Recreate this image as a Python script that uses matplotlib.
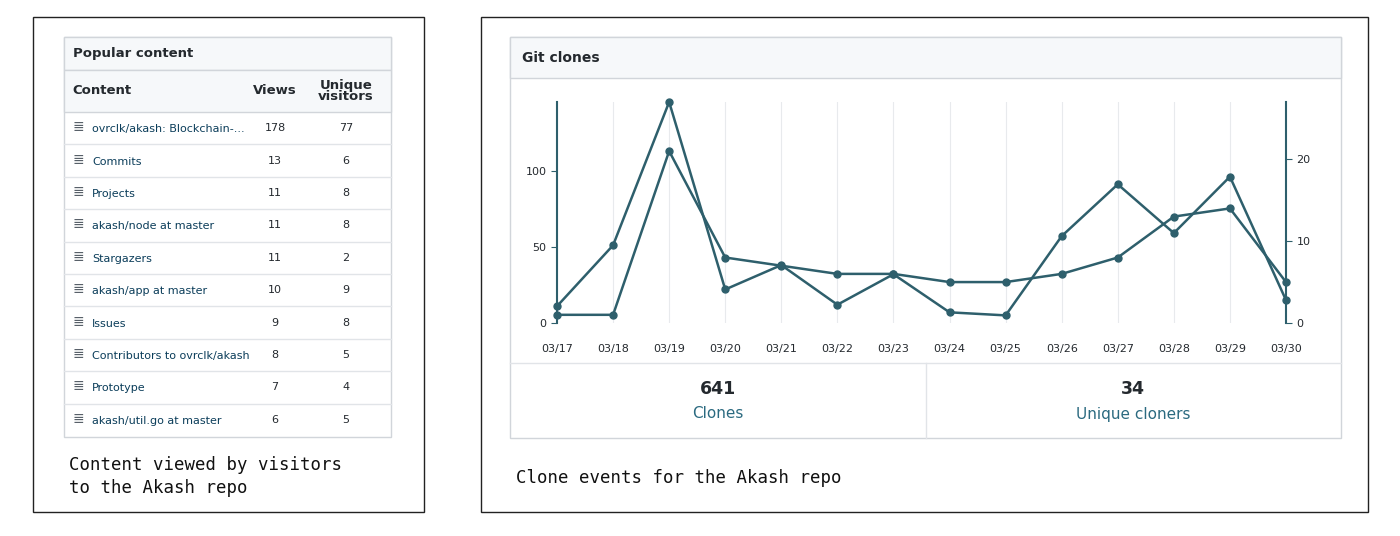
import matplotlib
matplotlib.use("Agg")
import matplotlib.pyplot as plt
from matplotlib.patches import Rectangle

W, H = 1400, 536
dates = ["03/17","03/18","03/19","03/20","03/21","03/22","03/23","03/24","03/25","03/26","03/27","03/28","03/29","03/30"]
clones = [11, 51, 145, 22, 38, 12, 32, 7, 5, 57, 91, 59, 96, 15]
uniques = [1, 1, 21, 8, 7, 6, 6, 5, 5, 6, 8, 13, 14, 5]
content = ["ovrclk/akash: Blockchain-...", "Commits", "Projects", "akash/node at master", "Stargazers",
           "akash/app at master", "Issues", "Contributors to ovrclk/akash", "Prototype", "akash/util.go at master"]
views = [178, 13, 11, 11, 11, 10, 9, 8, 7, 6]
visitors = [77, 6, 8, 8, 2, 9, 8, 5, 4, 5]
total_clones, total_uniques = 641, 34

fig = plt.figure(figsize=(W/100, H/100), dpi=100)
fig.patch.set_facecolor("white")

def fx(x): return x / W
def fy(y): return 1 - y / H

def rect(x0, y0, x1, y1, fc="none", ec="#333333", lw=1.0):
    fig.patches.append(Rectangle((fx(x0), fy(y1)), fx(x1) - fx(x0), fy(y0) - fy(y1),
                                 transform=fig.transFigure, facecolor=fc, edgecolor=ec, linewidth=lw))

def hline(y, x0, x1, c="#e1e4e8"):
    fig.add_artist(plt.Line2D([fx(x0), fx(x1)], [fy(y), fy(y)], transform=fig.transFigure, color=c, lw=1))

def txt(x, y, s, **kw):
    kw.setdefault("va", "center")
    kw.setdefault("color", "#24292e")
    fig.text(fx(x), fy(y), s, **kw)

teal = "#2e5f6c"

# outer frames
rect(33, 17, 424, 512, ec="#222222", lw=1)
rect(481, 17, 1368, 512, ec="#222222", lw=1)

# left table card
rect(64, 37, 391, 437, ec="#d1d5da")
rect(64, 37, 391, 70, fc="#f6f8fa", ec="#d1d5da")
rect(64, 70, 391, 112, fc="#f6f8fa", ec="#d1d5da")
txt(73, 53, "Popular content", fontsize=9.5, weight="bold")
txt(72, 91, "Content", fontsize=9.5, weight="bold")
txt(275, 91, "Views", fontsize=9.5, weight="bold", ha="center")
txt(346, 91, "Unique\nvisitors", fontsize=9.5, weight="bold", ha="center", linespacing=0.9)
row_h = 32.4
for i, (c, v, u) in enumerate(zip(content, views, visitors)):
    yc = 112 + row_h * (i + 0.5)
    if i > 0:
        hline(112 + row_h * i, 64, 391)
    txt(78, yc - 1, "\u2263", fontsize=10, ha="center", color="#586069")
    txt(92, yc + 1, c, fontsize=8, color="#0b3d5a")
    txt(275, yc, str(v), fontsize=8, ha="center")
    txt(346, yc, str(u), fontsize=8, ha="center")

txt(69, 465, "Content viewed by visitors", fontsize=12.5, family="DejaVu Sans Mono", color="#111111")
txt(69, 488, "to the Akash repo", fontsize=12.5, family="DejaVu Sans Mono", color="#111111")

# right card
rect(510, 37, 1341, 438, ec="#d1d5da")
rect(510, 37, 1341, 78, fc="#f6f8fa", ec="#d1d5da")
txt(522, 58, "Git clones", fontsize=10, weight="bold")
hline(363, 510, 1341)
fig.add_artist(plt.Line2D([fx(926), fx(926)], [fy(363), fy(438)], transform=fig.transFigure, color="#e1e4e8", lw=1))
txt(718, 389, str(total_clones), fontsize=12.5, weight="bold", ha="center")
txt(718, 414, "Clones", fontsize=11, ha="center", color="#2b6a80")
txt(1133, 389, str(total_uniques), fontsize=12.5, weight="bold", ha="center")
txt(1133, 414, "Unique cloners", fontsize=11, ha="center", color="#2b6a80")
txt(516, 478, "Clone events for the Akash repo", fontsize=12.5, family="DejaVu Sans Mono", color="#111111")

# chart
x0p, x1p, ybot, ytop = 557, 1286, 323, 102
ax = fig.add_axes([fx(x0p), fy(ybot), fx(x1p) - fx(x0p), fy(ytop) - fy(ybot)])
ax.patch.set_alpha(0)
xs = list(range(len(dates)))
ax.set_xlim(0, len(dates) - 1)
ax.set_ylim(0, 145)
for x in xs:
    ax.axvline(x, color="#e8eaed", lw=0.8, zorder=0)
ax.plot(xs, clones, color=teal, lw=1.8, marker="o", ms=5, clip_on=False, zorder=3)
for s in ["top", "bottom", "right"]:
    ax.spines[s].set_visible(False)
ax.spines["left"].set_color(teal)
ax.spines["left"].set_linewidth(1.5)
ax.set_yticks([0, 50, 100])
ax.set_xticks(xs)
ax.set_xticklabels(dates)
ax.tick_params(axis="x", length=0, pad=15, labelsize=8, colors="#24292e")
ax.tick_params(axis="y", length=4, color=teal, labelsize=8, colors="#24292e")
ax2 = ax.twinx()
ax2.set_ylim(0, 145 * 27 / 145)
ax2.plot(xs, uniques, color=teal, lw=1.8, marker="o", ms=5, clip_on=False, zorder=3)
for s in ["top", "bottom", "left"]:
    ax2.spines[s].set_visible(False)
ax2.spines["right"].set_color(teal)
ax2.spines["right"].set_linewidth(1.5)
ax2.set_yticks([0, 10, 20])
ax2.tick_params(axis="y", length=4, color=teal, labelsize=8, colors="#24292e")

fig.savefig("out.png", dpi=100, facecolor="white")
